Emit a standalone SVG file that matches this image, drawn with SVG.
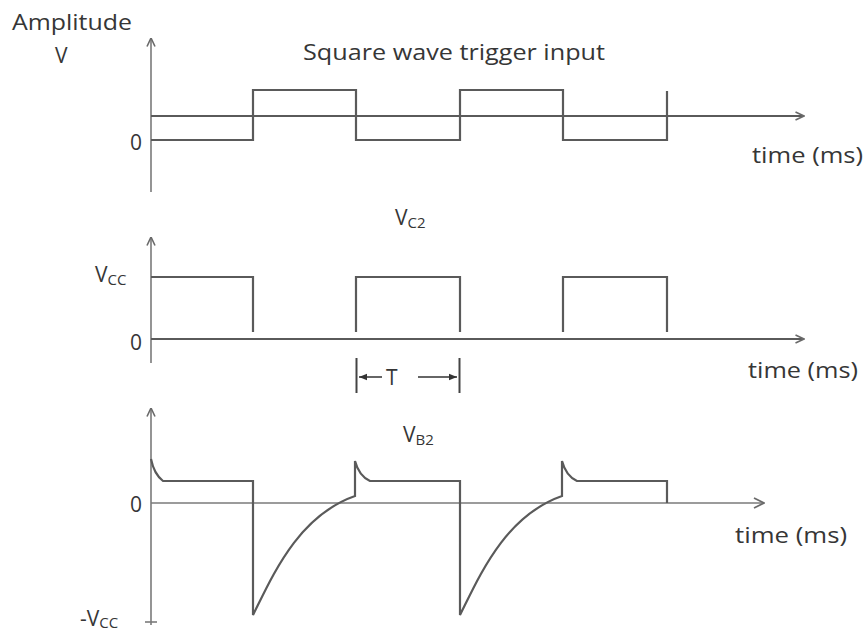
<svg xmlns="http://www.w3.org/2000/svg" width="867" height="631" viewBox="0 0 867 631">
<defs>
<style>
.ax{stroke:#7a7a7a;stroke-width:1.6;fill:none}
.wv{stroke:#5a5a5a;stroke-width:2.2;fill:none;stroke-linejoin:miter}
.tx{font-family:"Open Sans","Liberation Sans",sans-serif;font-size:21px;fill:#363636}
.sb{font-size:15px}
</style>
<marker id="chev" viewBox="0 0 10 10" refX="9.5" refY="5" markerWidth="10" markerHeight="10" markerUnits="userSpaceOnUse" orient="auto">
<path d="M1,1 L9.5,5 L1,9" fill="none" stroke="#6a6a6a" stroke-width="1.6"/>
</marker>
<marker id="chevL" viewBox="0 0 12 12" refX="11" refY="6" markerWidth="12" markerHeight="12" markerUnits="userSpaceOnUse" orient="auto">
<path d="M1,1 L11,6 L1,11" fill="none" stroke="#6a6a6a" stroke-width="1.8"/>
</marker>
<marker id="solid" viewBox="0 0 10 10" refX="10" refY="5" markerWidth="9" markerHeight="8" markerUnits="userSpaceOnUse" orient="auto">
<path d="M0,1 L10,5 L0,9 Z" fill="#333"/>
</marker>
</defs>
<rect width="867" height="631" fill="#ffffff"/>

<g id="labels-top">
<text class="tx" x="12" y="30" textLength="120" lengthAdjust="spacingAndGlyphs">Amplitude</text>
<text class="tx" x="55" y="63">V</text>
</g>

<g id="panel1">
<text class="tx" x="303" y="60" font-size="22" textLength="302" lengthAdjust="spacingAndGlyphs">Square wave trigger input</text>
<text class="tx" x="130" y="150">0</text>
<text class="tx" x="752" y="163" textLength="111" lengthAdjust="spacingAndGlyphs">time (ms)</text>
<line class="ax" x1="151" y1="192" x2="151" y2="38" marker-end="url(#chev)"/>
<line class="wv" x1="151" y1="116" x2="804" y2="116" marker-end="url(#chev)"/>
<path class="wv" d="M151,140 H253 V90 H356 V140 H460 V90 H563 V140 H667 V91"/>
</g>

<g id="panel2">
<text class="tx" x="395" y="225">V<tspan class="sb" dy="3">C2</tspan></text>
<text class="tx" x="95" y="282">V<tspan class="sb" dy="3">CC</tspan></text>
<text class="tx" x="130" y="350">0</text>
<text class="tx" x="748" y="378" textLength="110" lengthAdjust="spacingAndGlyphs">time (ms)</text>
<line class="ax" x1="151" y1="363" x2="151" y2="237" marker-end="url(#chev)"/>
<line class="wv" x1="151" y1="339" x2="804" y2="339" marker-end="url(#chev)"/>
<path class="wv" d="M151,277 H253 V332"/>
<path class="wv" d="M356,332 V277 H460 V332"/>
<path class="wv" d="M563,332 V277 H667 V332"/>
</g>

<g id="period-marker">
<line x1="356.5" y1="358" x2="356.5" y2="393" stroke="#444" stroke-width="2"/>
<line x1="459.5" y1="358" x2="459.5" y2="393" stroke="#444" stroke-width="2"/>
<line x1="382" y1="377" x2="359" y2="377" stroke="#333" stroke-width="1.5" marker-end="url(#solid)"/>
<line x1="418" y1="377" x2="457" y2="377" stroke="#333" stroke-width="1.5" marker-end="url(#solid)"/>
<text class="tx" x="386" y="385" font-size="19">T</text>
</g>

<g id="panel3">
<text class="tx" x="403" y="442">V<tspan class="sb" dy="3">B2</tspan></text>
<text class="tx" x="130" y="512">0</text>
<text class="tx" x="80" y="626">-V<tspan class="sb" dy="2">CC</tspan></text>
<text class="tx" x="735" y="543" textLength="112" lengthAdjust="spacingAndGlyphs">time (ms)</text>
<line class="ax" x1="151" y1="625" x2="151" y2="408" marker-end="url(#chev)"/>
<line class="ax" x1="145" y1="622" x2="157" y2="622"/>
<line class="ax" x1="151" y1="503" x2="764" y2="503" marker-end="url(#chevL)"/>
<path class="wv" d="M151,459 Q154,474 163,481 H253 V615 C273,575 298,516 355,496 V461 Q359,476 370,481 H460 V615 C480,575 505,516 562,496 V461 Q566,476 577,481 H667 V503"/>
</g>
</svg>
